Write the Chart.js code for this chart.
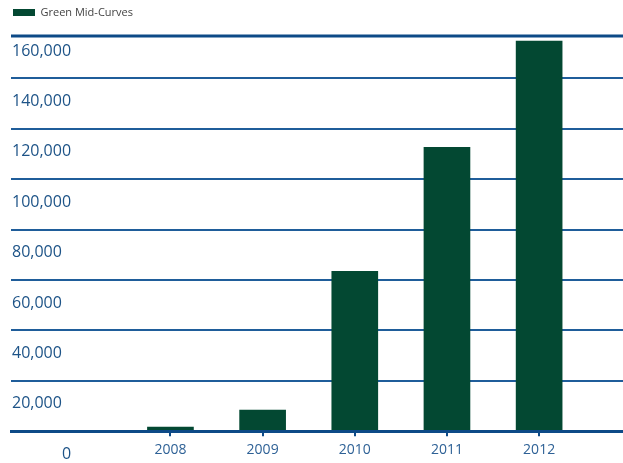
<!DOCTYPE html>
<html>
<head>
<meta charset="utf-8">
<script src="https://cdn.jsdelivr.net/npm/chart.js@4.4.1/dist/chart.umd.min.js"></script>
<style>
  html, body { margin: 0; padding: 0; background: #fff; }
  #wrap { width: 623px; height: 463px; position: relative; }
</style>
</head>
<body>
<div id="wrap"><canvas id="chart"></canvas></div>
<script>
// data
const years = [2008, 2009, 2010, 2011, 2012];
const midCurves = [1600, 8400, 63400, 112600, 154800];
const yTicks = [0, 20000, 40000, 60000, 80000, 100000, 120000, 140000, 160000];
const topLineValue = 156800;

const gridBlue = '#1f5d9a';
const darkBlue = '#0d4a87';
const barGreen = '#034832';
const labelBlue = '#1d5387';
const labelFont = '16px "Open Sans"';
const labelShift = 23;

// thick top rule of the frame, plus the "0" label that sits off to the right
const extras = {
    id: 'extras',
    beforeDatasetsDraw(chart) {
        const { ctx, chartArea, scales } = chart;
        const y = scales.y.getPixelForValue(topLineValue);
        ctx.save();
        ctx.strokeStyle = darkBlue;
        ctx.lineWidth = 3;
        ctx.beginPath();
        ctx.moveTo(chartArea.left, y);
        ctx.lineTo(chartArea.right, y);
        ctx.stroke();
        ctx.restore();
    },
    afterDraw(chart) {
        const { ctx, chartArea, scales } = chart;
        const y0 = scales.y.getPixelForValue(yTicks[0]) + labelShift;
        ctx.save();
        ctx.fillStyle = labelBlue;
        ctx.font = labelFont;
        ctx.textAlign = 'left';
        ctx.textBaseline = 'middle';
        ctx.fillText(String(yTicks[0]), chartArea.left + 51, y0);
        ctx.restore();
    }
};

const ctx = document.getElementById('chart').getContext('2d');
new Chart(ctx, {
    type: 'bar',
    data: {
        datasets: [{
            label: 'Green Mid-Curves',
            data: years.map((yr, i) => ({ x: yr, y: midCurves[i] })),
            backgroundColor: barGreen,
            borderWidth: 0,
            barThickness: 46
        }]
    },
    options: {
        responsive: true,
        maintainAspectRatio: false,
        animation: false,
        layout: { padding: { left: 9, right: 0, top: 3, bottom: 0 } },
        plugins: {
            tooltip: { enabled: false },
            legend: {
                position: 'top',
                align: 'start',
                labels: {
                    boxWidth: 22,
                    boxHeight: 7,
                    padding: 4,
                    color: '#444444',
                    font: { family: 'Open Sans', size: 11 }
                }
            }
        },
        scales: {
            x: {
                type: 'linear',
                offset: false,
                min: 2006.27,
                max: 2012.91,
                afterBuildTicks: (axis) => { axis.ticks = years.map(v => ({ value: v })); },
                grid: {
                    offset: false,
                    drawOnChartArea: false,
                    drawTicks: true,
                    tickLength: 5,
                    color: darkBlue,
                    lineWidth: 2
                },
                border: { display: true, color: darkBlue, width: 3 },
                ticks: {
                    autoSkip: false,
                    maxRotation: 0,
                    padding: 5,
                    color: '#2e6196',
                    font: { family: 'Open Sans', size: 14 },
                    callback: (v) => String(v)
                }
            },
            y: {
                min: 0,
                max: 160000,
                afterBuildTicks: (axis) => { axis.ticks = yTicks.map(v => ({ value: v })); },
                grid: {
                    drawTicks: false,
                    color: (c) => c.tick && c.tick.value === 160000 ? 'rgba(0,0,0,0)' : gridBlue,
                    lineWidth: (c) => c.tick && c.tick.value === 0 ? 3 : 2
                },
                border: { display: false },
                ticks: {
                    mirror: true,
                    padding: 1,
                    labelOffset: labelShift,
                    color: labelBlue,
                    font: { family: 'Open Sans', size: 16 },
                    callback: (v) => v === 0 ? '' : v.toLocaleString('en-US')
                }
            }
        }
    },
    plugins: [extras]
});
</script>
</body>
</html>
